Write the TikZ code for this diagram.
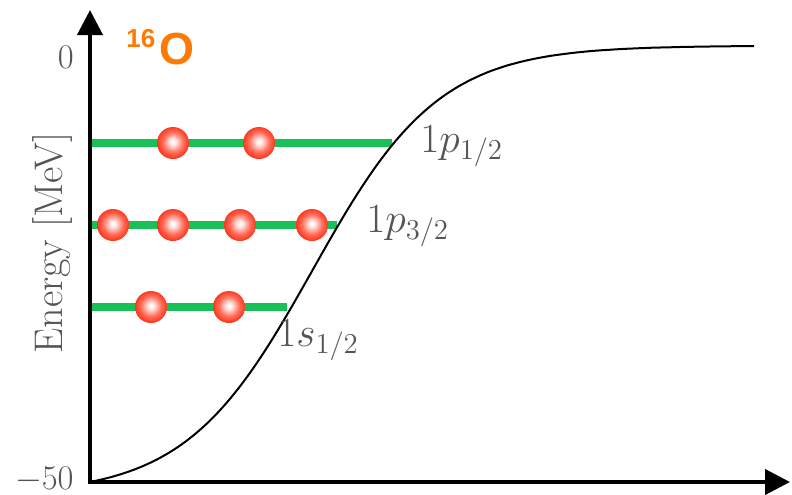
\documentclass[tikz,border=0pt]{standalone}
\usepackage{fontspec}
\newfontfamily\helv{Liberation Sans}
\usetikzlibrary{arrows.meta}
\definecolor{lvlgreen}{RGB}{25,192,88}
\definecolor{txtgray}{RGB}{85,85,85}
\definecolor{oorange}{RGB}{255,122,0}
\definecolor{ballred}{RGB}{255,60,35}
\pgfdeclareradialshading{nucball}{\pgfpoint{0bp}{2bp}}{%
  color(0bp)=(white);
  color(4bp)=(white!92!ballred);
  color(16bp)=(ballred!75!white);
  color(24bp)=(ballred);
  color(26bp)=(ballred!92!black);
  color(50bp)=(ballred!92!black)}
\begin{document}
\begin{tikzpicture}[x=0.5pt,y=-0.5pt,
  axis/.style={line width=2pt,-{Triangle[length=12.5pt,width=12.5pt]}},
  level/.style={draw=lvlgreen,line width=4pt},
  nucleon/.style={circle,minimum size=16pt,inner sep=0pt,shading=nucball},
  lbl/.style={inner sep=0pt,text=txtgray,font=\fontsize{20}{22}\selectfont},
  tick/.style={inner sep=0pt,text=txtgray,font=\fontsize{18}{20}\selectfont}]
\useasboundingbox (0,0) rectangle (792,494);
% levels
\draw[level] (90,143) -- (392,143);
\draw[level] (90,225) -- (337,225);
\draw[level] (90,307) -- (287,307);
% potential
\draw[line width=1pt,black] plot[domain=90:754,samples=120,smooth]
  (\x,{482-436*((1/(1+exp(-(\x-312.4)/63.4)))-0.0291)/0.96995});
% axes
\draw[axis] (90,484) -- (90,10);
\draw[axis] (88,482) -- (790,482);
% nucleons
\node[nucleon] (n1) at (173,143) {};
\node[nucleon] (n2) at (259,143) {};
\node[nucleon] (n3) at (113,225) {};
\node[nucleon] (n4) at (173,225) {};
\node[nucleon] (n5) at (240,225) {};
\node[nucleon] (n6) at (312,225) {};
\node[nucleon] (n7) at (151,307) {};
\node[nucleon] (n8) at (229,307) {};
% labels
\node[lbl,anchor=base west] (l1) at (420,152) {$1p_{1/2}$};
\node[lbl,anchor=base west] (l2) at (366,232) {$1p_{3/2}$};
\node[lbl,anchor=base west] (l3) at (277,346) {$1s_{1/2}$};
\node[tick,anchor=base east] (t0) at (74,68) {$0$};
\node[tick,anchor=base east] (t50) at (74,489) {$-50$};
\node[lbl,anchor=base,rotate=90] (ylab) at (62,243) {Energy [MeV]};
\node[inner sep=0pt,anchor=base west,text=oorange,font=\helv\bfseries\fontsize{13}{13}\selectfont] (sup) at (126,47) {16};
\node[inner sep=0pt,anchor=base west,text=oorange,font=\helv\bfseries\fontsize{22.5}{22.5}\selectfont] (oxy) at (159,64) {O};
\end{tikzpicture}
\end{document}
